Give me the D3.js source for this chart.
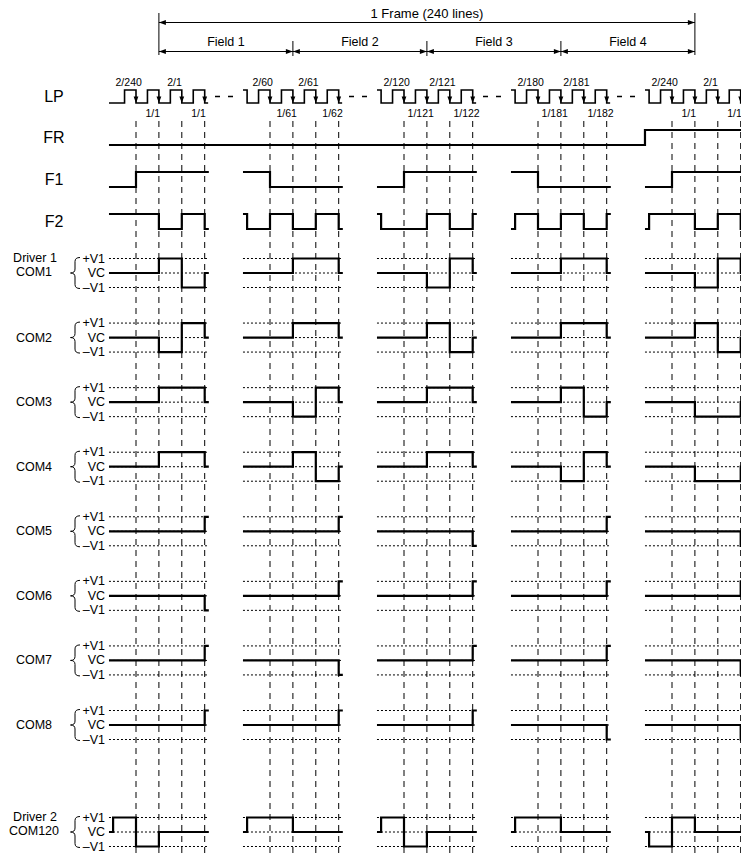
<!DOCTYPE html>
<html>
<head>
<meta charset="utf-8">
<script src="https://cdn.jsdelivr.net/npm/d3@7"></script>
<style>
body { margin: 0; background: #fff; }
text { font-family: Arial, "Liberation Sans", Helvetica, sans-serif; fill: #000; }
</style>
</head>
<body>
<svg id="chart"></svg>
<script>
// DATA

var groups = [0, 1, 2, 3, 4];
var slots = [0, 1, 2, 3];
var frameLabel = "1 Frame (240 lines)";
var fieldNames = ["Field 1", "Field 2", "Field 3", "Field 4"];

var lpStart = [0, 1, 1, 1, 1];
var lpTop = [["2/240", "2/1"], ["2/60", "2/61"], ["2/120", "2/121"], ["2/180", "2/181"], ["2/240", "2/1"]];
var lpBottom = [["1/1", "1/1"], ["1/61", "1/62"], ["1/121", "1/122"], ["1/181", "1/182"], ["1/1", "1/1"]];

// levels per group: [stub, pre, s0, s1, s2, post]
var frLevels = [[0,0,0,0,0,0], [0,0,0,0,0,0], [0,0,0,0,0,0], [0,0,0,0,0,0], [1,1,1,1,1,1]];
var f1Levels = [[0,0,1,1,1,1], [1,1,0,0,0,0], [0,0,1,1,1,1], [1,1,0,0,0,0], [0,0,1,1,1,1]];
var f2Levels = [[1,1,1,0,1,0], [1,0,1,0,1,0], [1,0,0,1,0,1], [0,1,0,1,0,1], [0,1,1,0,1,0]];

var com1 = [[0,0,0,1,-1,0], [0,0,0,1,1,0], [0,0,0,-1,1,0], [0,0,0,1,1,0], [0,0,0,-1,1,0]];
var com2 = [[0,0,0,-1,1,0], [0,0,0,1,1,0], [0,0,0,1,-1,0], [0,0,0,1,1,0], [0,0,0,1,-1,0]];
var com3 = [[0,0,0,1,1,0], [0,0,0,-1,1,0], [0,0,0,1,1,0], [0,0,0,1,-1,0], [0,0,0,-1,-1,0]];
var com4 = [[0,0,0,1,1,0], [0,0,0,1,-1,0], [0,0,0,1,1,0], [0,0,0,-1,1,0], [0,0,0,-1,-1,0]];
var com5 = [[0,0,0,0,0,1], [0,0,0,0,0,1], [0,0,0,0,0,-1], [0,0,0,0,0,1], [0,0,0,0,0,-1]];
var com6 = [[0,0,0,0,0,-1], [0,0,0,0,0,1], [0,0,0,0,0,1], [0,0,0,0,0,1], [0,0,0,0,0,1]];
var com7 = [[0,0,0,0,0,1], [0,0,0,0,0,-1], [0,0,0,0,0,1], [0,0,0,0,0,1], [0,0,0,0,0,-1]];
var com8 = [[0,0,0,0,0,1], [0,0,0,0,0,1], [0,0,0,0,0,1], [0,0,0,0,0,-1], [0,0,0,0,0,-1]];
var com120 = [[0,1,-1,0,0,0], [0,1,1,0,0,0], [0,1,-1,0,0,0], [0,1,1,0,0,0], [0,-1,1,0,0,0]];

var comNames = ["COM1", "COM2", "COM3", "COM4", "COM5", "COM6", "COM7", "COM8", "COM120"];
var comDrivers = ["Driver 1", "", "", "", "", "", "", "", "Driver 2"];
var levelNames = ["+V1", "VC", "\u2013V1"];

// DIMENSIONS

var width = 741,
	height = 866,
	edges = [-1.18, -1, 0, 1, 2, 3, 3.18];

var svg = d3.select("#chart")
	.attr('width', width)
	.attr('height', height)
	.style('background', '#fff');

var gx = d3.scaleLinear().domain([0, 4]).range([136, 672]);
var sx = d3.scaleLinear().domain([0, 1]).range([0, 22.9]);
function X(g, t) { return gx(g) + sx(t); }

var lpY = d3.scaleLinear().domain([0, 1]).range([103, 90]);
var frY = d3.scaleLinear().domain([0, 1]).range([145, 130]);
var f1Y = d3.scaleLinear().domain([0, 1]).range([187, 172]);
var f2Y = d3.scaleLinear().domain([0, 1]).range([229, 214]);
var comY = d3.scaleLinear().domain([0, 7]).range([273, 725]);
var comVC = comNames.map(function(n, i) { return i < 8 ? comY(i) : 832; });

function levelPoints(levels, g) {
	return edges.map(function(t, i) { return { g: g, t: t, v: levels[Math.min(i, 5)] }; });
}

function stepLine(y) {
	return d3.line()
		.x(function(d) { return X(d.g, d.t); })
		.y(function(d) { return y(d.v); })
		.curve(d3.curveStepAfter);
}

// HEADER

var head = svg.append('g');

function arrowHead(x, y, dir) {
	return [[x, y], [x - dir * 7, y - 2.6], [x - dir * 7, y + 2.6]];
}

var frameA = X(0, 1), frameB = X(4, 1);
head.append('text')
	.attr('x', (frameA + frameB) / 2).attr('y', 13)
	.attr('text-anchor', 'middle').attr('dominant-baseline', 'central')
	.style('font-size', '13px')
	.text(frameLabel);
head.selectAll('line.fv').data([frameA, frameB])
	.enter().append('line')
	.attr('x1', function(d) { return d; }).attr('x2', function(d) { return d; })
	.attr('y1', 13).attr('y2', 55)
	.attr('stroke', '#000').attr('stroke-width', 1);
head.append('line')
	.attr('x1', frameA).attr('x2', frameB).attr('y1', 22.5).attr('y2', 22.5)
	.attr('stroke', '#000').attr('stroke-width', 1);
head.append('polygon').attr('points', arrowHead(frameA, 22.5, -1).join(' '));
head.append('polygon').attr('points', arrowHead(frameB, 22.5, 1).join(' '));

fieldNames.forEach(function(name, i) {
	var a = X(i, 1), b = X(i + 1, 1);
	head.append('line')
		.attr('x1', a).attr('x2', b).attr('y1', 51.5).attr('y2', 51.5)
		.attr('stroke', '#000').attr('stroke-width', 1);
	head.append('polygon').attr('points', arrowHead(a, 51.5, -1).join(' '));
	head.append('polygon').attr('points', arrowHead(b, 51.5, 1).join(' '));
	head.append('text')
		.attr('x', (a + b) / 2).attr('y', 42)
		.attr('text-anchor', 'middle').attr('dominant-baseline', 'central')
		.style('font-size', '12.5px')
		.text(name);
	if (i > 0) {
		head.append('line')
			.attr('x1', a).attr('x2', a).attr('y1', 41).attr('y2', 56)
			.attr('stroke', '#000').attr('stroke-width', 1);
	}
});

// GRID

var grid = [];
groups.forEach(function(g) { slots.forEach(function(s) { grid.push(X(g, s)); }); });
svg.append('g').selectAll('line').data(grid)
	.enter().append('line')
	.attr('x1', function(d) { return d; }).attr('x2', function(d) { return d; })
	.attr('y1', 121).attr('y2', 858)
	.attr('stroke', '#000').attr('stroke-width', 1)
	.attr('stroke-dasharray', '6,5');

// LP

var lp = svg.append('g');
var lpLine = stepLine(lpY);
groups.forEach(function(g) {
	var pts = [{ g: g, t: -1.18, v: lpStart[g] }, { g: g, t: -1, v: 0 }];
	slots.forEach(function(s) {
		pts.push({ g: g, t: s - 0.5, v: 1 });
		pts.push({ g: g, t: s, v: 0 });
	});
	pts.push({ g: g, t: 3.15, v: 0 });
	lp.append('path').attr('d', lpLine(pts))
		.attr('fill', 'none').attr('stroke', '#000').attr('stroke-width', 1.6);
	slots.forEach(function(s) {
		var x = X(g, s);
		lp.append('polygon')
			.attr('points', [[x - 2.4, lpY(0) - 6.5], [x + 2.4, lpY(0) - 6.5], [x, lpY(0)]].join(' '));
	});
	lpTop[g].forEach(function(label, k) {
		lp.append('text')
			.attr('x', X(g, k * 2 - 0.32)).attr('y', 81.5)
			.attr('text-anchor', 'middle').attr('dominant-baseline', 'central')
			.style('font-size', '10.5px')
			.text(label);
	});
	lpBottom[g].forEach(function(label, k) {
		lp.append('text')
			.attr('x', X(g, k * 2 + 1 - 0.27)).attr('y', 113)
			.attr('text-anchor', 'middle').attr('dominant-baseline', 'central')
			.style('font-size', '10.5px')
			.text(label);
	});
	if (g < 4) {
		lp.append('line')
			.attr('x1', X(g, 3.45)).attr('x2', X(g, 4.24))
			.attr('y1', lpY(0.5)).attr('y2', lpY(0.5))
			.attr('stroke', '#000').attr('stroke-width', 1.6)
			.attr('stroke-dasharray', '5,8');
	}
});

// FR, F1, F2

var bigRows = [
	{ name: "LP", y: lpY },
	{ name: "FR", y: frY },
	{ name: "F1", y: f1Y },
	{ name: "F2", y: f2Y }
];
svg.append('g').selectAll('text').data(bigRows)
	.enter().append('text')
	.attr('x', 54)
	.attr('y', function(d) { return d.y(0.5); })
	.attr('text-anchor', 'middle').attr('dominant-baseline', 'central')
	.style('font-size', '16px')
	.text(function(d) { return d.name; });

var frPts = [];
groups.forEach(function(g) { frPts = frPts.concat(levelPoints(frLevels[g], g)); });
svg.append('path').attr('d', stepLine(frY)(frPts))
	.attr('fill', 'none').attr('stroke', '#000').attr('stroke-width', 2.2);

[[f1Levels, f1Y], [f2Levels, f2Y]].forEach(function(row) {
	var line = stepLine(row[1]);
	groups.forEach(function(g) {
		svg.append('path').attr('d', line(levelPoints(row[0][g], g)))
			.attr('fill', 'none').attr('stroke', '#000').attr('stroke-width', 2.2);
	});
});

// COM ROWS

var comData = [com1, com2, com3, com4, com5, com6, com7, com8, com120];

comData.forEach(function(levels, i) {
	var vc = comVC[i];
	var y = d3.scaleLinear().domain([-1, 1]).range([vc + 14.5, vc - 14.5]);
	var row = svg.append('g');

	// guides
	groups.forEach(function(g) {
		[1, 0, -1].forEach(function(v) {
			row.append('line')
				.attr('x1', X(g, edges[0])).attr('x2', X(g, edges[6]))
				.attr('y1', y(v)).attr('y2', y(v))
				.attr('stroke', '#000').attr('stroke-width', 1)
				.attr('stroke-dasharray', '2,2');
		});
	});

	// level labels
	[1, 0, -1].forEach(function(v, k) {
		row.append('text')
			.attr('x', 105).attr('y', y(v))
			.attr('text-anchor', 'end').attr('dominant-baseline', 'central')
			.style('font-size', '12.5px')
			.text(levelNames[k]);
	});

	// brace
	var top = y(1) - 1, bot = y(-1) + 1;
	var p = d3.path();
	p.moveTo(80, top);
	p.quadraticCurveTo(75, top, 75, top + 4);
	p.lineTo(75, vc - 4);
	p.quadraticCurveTo(75, vc, 70.5, vc);
	p.quadraticCurveTo(75, vc, 75, vc + 4);
	p.lineTo(75, bot - 4);
	p.quadraticCurveTo(75, bot, 80, bot);
	row.append('path').attr('d', p.toString())
		.attr('fill', 'none').attr('stroke', '#000').attr('stroke-width', 1);

	// name
	if (comDrivers[i]) {
		row.append('text')
			.attr('x', 35).attr('y', vc - 15)
			.attr('text-anchor', 'middle').attr('dominant-baseline', 'central')
			.style('font-size', '12.5px')
			.text(comDrivers[i]);
	}
	row.append('text')
		.attr('x', 34).attr('y', comDrivers[i] ? vc - 1 : vc)
		.attr('text-anchor', 'middle').attr('dominant-baseline', 'central')
		.style('font-size', '12.5px')
		.text(comNames[i]);

	// signal
	var line = stepLine(y);
	groups.forEach(function(g) {
		row.append('path').attr('d', line(levelPoints(levels[g], g)))
			.attr('fill', 'none').attr('stroke', '#000').attr('stroke-width', 2.2);
	});
});
</script>
</body>
</html>
